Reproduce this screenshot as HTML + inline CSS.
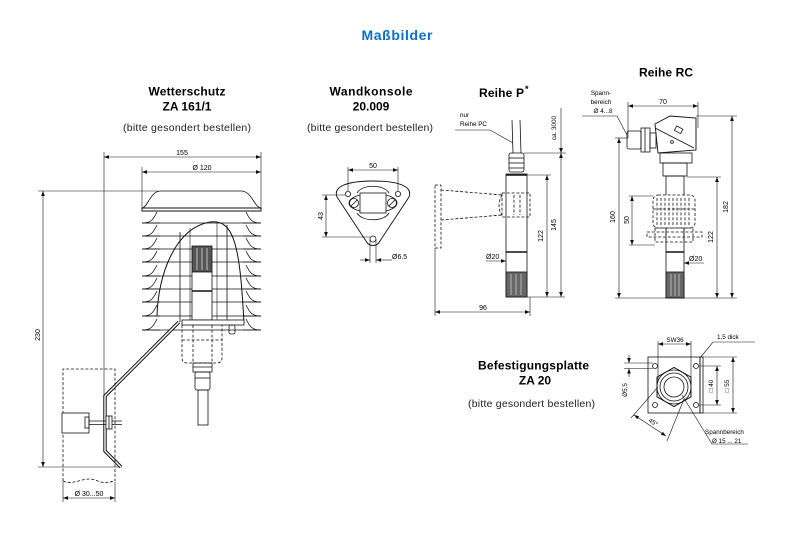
<!DOCTYPE html>
<html><head><meta charset="utf-8">
<style>
html,body{margin:0;padding:0;background:#fff;width:800px;height:556px;overflow:hidden}
svg{display:block}
text{font-family:"Liberation Sans",sans-serif;fill:#000}
.h{font-weight:bold;font-size:12px}
.n{font-size:10.5px;fill:#222}
.s{font-size:7px}
.t{font-size:6.3px}
line,path,rect,circle,ellipse,polygon,polyline{fill:none;stroke:#111;stroke-width:0.8}
.d{stroke-dasharray:3 1.8}
.dm{stroke-width:0.6}
.k{stroke-width:1.6}
</style></head>
<body>
<svg width="800" height="556" viewBox="0 0 800 556" xmlns="http://www.w3.org/2000/svg">
<defs>
<marker id="a" viewBox="0 0 8 6" refX="8" refY="3" markerWidth="5" markerHeight="4" orient="auto-start-reverse" markerUnits="userSpaceOnUse">
<path d="M0,0 L8,3 L0,6 Z" style="fill:#111;stroke:none"/>
</marker>
</defs>

<!-- Title -->
<text x="397" y="40" text-anchor="middle" font-size="14" font-weight="bold" style="fill:#0a6fc4" textLength="71">Maßbilder</text>

<!-- Headings -->
<text class="h" x="187" y="95.5" text-anchor="middle" textLength="77">Wetterschutz</text>
<text class="h" x="187" y="110.5" text-anchor="middle">ZA 161/1</text>
<text class="n" x="187" y="131" text-anchor="middle" textLength="128">(bitte gesondert bestellen)</text>

<text class="h" x="371" y="95.5" text-anchor="middle" textLength="83">Wandkonsole</text>
<text class="h" x="371" y="110.5" text-anchor="middle">20.009</text>
<text class="n" x="370" y="131" text-anchor="middle" textLength="126">(bitte gesondert bestellen)</text>

<text class="h" x="479" y="97" textLength="45">Reihe P</text><text x="525" y="92" font-size="9" font-weight="bold">*</text>
<text class="h" x="666" y="76.5" text-anchor="middle" textLength="54">Reihe RC</text>

<text class="h" x="533.5" y="369.5" text-anchor="middle" textLength="111">Befestigungsplatte</text>
<text class="h" x="535" y="384.5" text-anchor="middle">ZA 20</text>
<text class="n" x="531.5" y="407" text-anchor="middle" textLength="127">(bitte gesondert bestellen)</text>

<!-- ================= Wetterschutz ================= -->
<g>
<line class="dm" x1="104" y1="157" x2="261" y2="157" marker-start="url(#a)" marker-end="url(#a)"/>
<text class="s" x="182" y="155" text-anchor="middle">155</text>
<line class="dm" x1="261" y1="152" x2="261" y2="208"/>
<line class="dm" x1="142" y1="172" x2="261" y2="172" marker-start="url(#a)" marker-end="url(#a)"/>
<text class="s" x="202" y="170" text-anchor="middle">Ø 120</text>
<line class="dm" x1="142" y1="167" x2="142" y2="208"/>
<line class="dm" x1="43" y1="191" x2="43" y2="467" marker-start="url(#a)" marker-end="url(#a)"/>
<line class="dm" x1="38" y1="191" x2="158" y2="191"/>
<line class="dm" x1="38" y1="467" x2="122" y2="467"/>
<text class="s" x="40" y="335" text-anchor="middle" transform="rotate(-90 40 335)">230</text>
<line class="dm" x1="104" y1="152" x2="104" y2="397"/>

<!-- roof -->
<path d="M142,208 C148,207 150,192 160,191 L242,191 C252,192 254,207 261,208"/>
<rect x="142" y="208" width="119" height="3" style="stroke-width:1"/>

<!-- louvers -->
<g style="stroke-width:0.9">
<line x1="142" y1="223" x2="261" y2="223"/>
<line x1="142" y1="236" x2="261" y2="236"/>
<line x1="142" y1="249" x2="261" y2="249"/>
<line x1="142" y1="262" x2="261" y2="262"/>
<line x1="142" y1="276" x2="261" y2="276"/>
<line x1="142" y1="289" x2="261" y2="289"/>
<line x1="142" y1="302" x2="261" y2="302"/>
<line x1="142" y1="316" x2="261" y2="316"/>
<line x1="142" y1="330" x2="261" y2="330"/>
</g>
<g style="stroke-width:2">
<line x1="142" y1="223" x2="160" y2="223"/><line x1="243" y1="223" x2="261" y2="223"/>
<line x1="142" y1="236" x2="160" y2="236"/><line x1="243" y1="236" x2="261" y2="236"/>
<line x1="142" y1="249" x2="160" y2="249"/><line x1="243" y1="249" x2="261" y2="249"/>
<line x1="142" y1="262" x2="160" y2="262"/><line x1="243" y1="262" x2="261" y2="262"/>
<line x1="142" y1="276" x2="160" y2="276"/><line x1="243" y1="276" x2="261" y2="276"/>
<line x1="142" y1="289" x2="160" y2="289"/><line x1="243" y1="289" x2="261" y2="289"/>
<line x1="142" y1="302" x2="160" y2="302"/><line x1="243" y1="302" x2="261" y2="302"/>
<line x1="142" y1="316" x2="160" y2="316"/><line x1="243" y1="316" x2="261" y2="316"/>
<line x1="142" y1="330" x2="160" y2="330"/><line x1="243" y1="330" x2="261" y2="330"/>
</g>
<g style="stroke-width:1">
<path d="M142,223 C151,223 153,220 157,212"/><path d="M261,223 C252,223 250,220 246,212"/>
<path d="M142,236 C151,236 153,233 157,225"/><path d="M261,236 C252,236 250,233 246,225"/>
<path d="M142,249 C151,249 153,246 157,238"/><path d="M261,249 C252,249 250,246 246,238"/>
<path d="M142,262 C151,262 153,259 157,251"/><path d="M261,262 C252,262 250,259 246,251"/>
<path d="M142,276 C151,276 153,273 157,265"/><path d="M261,276 C252,276 250,273 246,265"/>
<path d="M142,289 C151,289 153,286 157,278"/><path d="M261,289 C252,289 250,286 246,278"/>
<path d="M142,302 C151,302 153,299 157,291"/><path d="M261,302 C252,302 250,299 246,291"/>
<path d="M142,316 C151,316 153,313 157,305"/><path d="M261,316 C252,316 250,313 246,305"/>
<path d="M142,330 C151,330 153,327 157,319"/><path d="M261,330 C252,330 250,327 246,319"/>
</g>

<!-- inner dome -->
<path d="M157,316 C158,275 175,228 210,222 C234,219 240,245 244,324" style="stroke-width:1"/>
<line x1="180" y1="232" x2="180" y2="322"/>
<line x1="190" y1="228" x2="190" y2="322" class="dm"/>
<line x1="227" y1="225" x2="227" y2="322"/>
<line x1="217" y1="223" x2="217" y2="322" class="dm"/>
<!-- sensor -->
<rect x="192" y="246" width="20" height="26" style="fill:#555"/>
<line x1="197" y1="248" x2="197" y2="270" style="stroke:#ddd"/>
<line x1="202" y1="248" x2="202" y2="270" style="stroke:#ddd"/>
<line x1="207" y1="248" x2="207" y2="270" style="stroke:#ddd"/>
<rect x="192" y="272" width="20" height="19" style="fill:#fff"/>
<rect x="192" y="291" width="20" height="29" style="fill:#fff"/>
<line x1="192" y1="291" x2="212" y2="291" class="k"/>
<!-- base plate -->
<rect x="182" y="320" width="62" height="5" style="fill:#fff"/>
<rect x="229" y="325" width="6" height="9" rx="2"/>
<!-- gland (dashed) -->
<path class="d" d="M182,325 L182,358 Q182,363 187,363 L217,363 Q222,363 222,358 L222,325"/>
<line class="d" x1="193" y1="325" x2="193" y2="363"/>
<line class="d" x1="212" y1="325" x2="212" y2="363"/>
<line class="d" x1="182" y1="340" x2="222" y2="340"/>
<rect x="193" y="363" width="19" height="9"/>
<line x1="193" y1="367" x2="212" y2="367"/>
<rect x="195" y="372" width="15" height="18" rx="2"/>
<line x1="195" y1="378" x2="210" y2="378"/>
<rect x="198" y="390" width="10" height="35"/>

<!-- rod -->
<polyline points="179,322 105,396 105,451 121,467" style="stroke-width:3.4;stroke-linejoin:miter"/>
<polyline points="179,322 105,396 105,451 121,467" style="stroke:#fff;stroke-width:1.4;stroke-linejoin:miter"/>

<!-- mast (dashed) -->
<path class="d" d="M63,481 L63,369 L115,369 L115,481"/>
<path class="d" d="M63,481 C74,486 84,476 95,480 C105,484 110,483 115,480"/>
<line class="dm" x1="63" y1="482" x2="63" y2="502"/>
<line class="dm" x1="115" y1="482" x2="115" y2="502"/>
<line class="dm" x1="63" y1="498" x2="115" y2="498" marker-start="url(#a)" marker-end="url(#a)"/>
<text class="s" x="89" y="496" text-anchor="middle">Ø 30...50</text>
<!-- clamp -->
<rect x="62" y="413" width="27" height="20" style="fill:#fff"/>
<rect x="85" y="417" width="4" height="11"/>
<line x1="89" y1="421" x2="122" y2="421"/>
<line x1="89" y1="424.5" x2="122" y2="424.5"/>
<rect x="106" y="416" width="6" height="13" style="fill:#fff"/>
<line x1="109" y1="416" x2="109" y2="429"/>
</g>

<!-- ================= Wandkonsole ================= -->
<g>
<path d="M337,197 C333,187 346,181 373,181 C400,181 413,187 409,197 L380,241 C377,247 369,247 366,241 Z" style="stroke-width:0.9"/>
<circle cx="348" cy="194" r="2.6"/>
<circle cx="398" cy="194" r="2.6"/>
<circle cx="373" cy="239" r="3"/>
<path d="M357,193 C362,184 384,184 389,193"/>
<path d="M357,213 C362,222 384,222 389,213"/>
<ellipse cx="373" cy="203" rx="24" ry="9.5"/>
<rect x="360" y="193" width="26" height="20" style="fill:#fff"/>
<circle cx="354" cy="203" r="4.5"/>
<line x1="351" y1="206" x2="357" y2="200"/>
<circle cx="392" cy="203" r="4.5"/>
<line x1="389" y1="206" x2="395" y2="200"/>
<line class="dm" x1="348" y1="170" x2="398" y2="170" marker-start="url(#a)" marker-end="url(#a)"/>
<line class="dm" x1="348" y1="167" x2="348" y2="191"/>
<line class="dm" x1="398" y1="167" x2="398" y2="191"/>
<text class="s" x="373" y="168" text-anchor="middle">50</text>
<line class="dm" x1="326" y1="195" x2="326" y2="237" marker-start="url(#a)" marker-end="url(#a)"/>
<line class="dm" x1="322" y1="195" x2="345" y2="195"/>
<line class="dm" x1="322" y1="237" x2="370" y2="237"/>
<text class="s" x="323" y="216" text-anchor="middle" transform="rotate(-90 323 216)">43</text>
<line class="dm" x1="370" y1="240" x2="370" y2="263"/>
<line class="dm" x1="376" y1="240" x2="376" y2="263"/>
<line class="dm" x1="360" y1="260" x2="370" y2="260" marker-end="url(#a)"/>
<line class="dm" x1="392" y1="260" x2="376" y2="260" marker-end="url(#a)"/>
<text class="s" x="392" y="259">Ø6.5</text>
</g>

<!-- ================= Reihe P ================= -->
<g>
<rect class="d" x="435" y="185" width="6" height="63"/>
<line class="d" x1="441" y1="190" x2="502" y2="195"/>
<line class="d" x1="441" y1="220" x2="502" y2="215"/>
<path class="d" d="M502,195 C498,202 498,210 502,215"/>
<rect class="d" x="502" y="193" width="28" height="24"/>
<line class="d" x1="514" y1="195" x2="514" y2="215"/>
<line class="d" x1="520" y1="195" x2="520" y2="215"/>
<rect x="506" y="174" width="21" height="123" style="fill:none"/>
<line x1="506" y1="175" x2="527" y2="175" class="k"/>
<line x1="506" y1="252" x2="527" y2="252" class="k"/>
<rect x="506" y="272" width="21" height="25" style="fill:#666"/>
<line x1="511" y1="274" x2="511" y2="295" style="stroke:#ccc"/>
<line x1="516" y1="274" x2="516" y2="295" style="stroke:#ccc"/>
<line x1="521" y1="274" x2="521" y2="295" style="stroke:#ccc"/>
<rect x="509" y="153" width="15" height="19" rx="2"/>
<line x1="509" y1="158" x2="524" y2="158"/>
<line x1="509" y1="163" x2="524" y2="163"/>
<line x1="509" y1="168" x2="524" y2="168"/>
<line x1="512" y1="120" x2="513" y2="153"/>
<line x1="520" y1="120" x2="521" y2="153"/>
<polyline class="dm" points="455,130 490,130 513,143"/>
<text class="t" x="460" y="117">nur</text>
<text class="t" x="460" y="126">Reihe PC</text>
<line class="dm" x1="524" y1="153" x2="566" y2="153"/>
<line class="dm" x1="527" y1="175" x2="551" y2="175"/>
<line class="dm" x1="527" y1="297" x2="565" y2="297"/>
<line class="dm" x1="561" y1="108" x2="561" y2="153" marker-end="url(#a)"/>
<text class="t" x="556" y="128" text-anchor="middle" transform="rotate(-90 556 128)">ca. 3000</text>
<line class="dm" x1="561" y1="153" x2="561" y2="297" marker-start="url(#a)" marker-end="url(#a)"/>
<text class="s" x="556" y="225" text-anchor="middle" transform="rotate(-90 556 225)">145</text>
<line class="dm" x1="547" y1="175" x2="547" y2="297" marker-start="url(#a)" marker-end="url(#a)"/>
<text class="s" x="543" y="236" text-anchor="middle" transform="rotate(-90 543 236)">122</text>
<text class="s" x="486" y="259">Ø20</text>
<line class="dm" x1="486" y1="261" x2="506" y2="261" marker-end="url(#a)"/>
<line class="dm" x1="435" y1="248" x2="435" y2="316"/>
<line class="dm" x1="530" y1="297" x2="530" y2="316"/>
<line class="dm" x1="435" y1="312" x2="530" y2="312" marker-start="url(#a)" marker-end="url(#a)"/>
<text class="s" x="483" y="310" text-anchor="middle">96</text>
</g>

<!-- ================= Reihe RC ================= -->
<g>
<line class="dm" x1="628" y1="106" x2="698" y2="106" marker-start="url(#a)" marker-end="url(#a)"/>
<text class="s" x="663" y="104" text-anchor="middle">70</text>
<line class="dm" x1="628" y1="102" x2="628" y2="138"/>
<line class="dm" x1="698" y1="102" x2="698" y2="128"/>
<text class="t" x="601" y="95" text-anchor="middle">Spann-</text>
<text class="t" x="601" y="104" text-anchor="middle">bereich</text>
<text class="t" x="603" y="113" text-anchor="middle">Ø 4...8</text>
<polyline class="dm" points="582,116 617,116 627,135"/>
<!-- head -->
<polygon points="655,124 670,116 696,118 696,150 658,153" style="stroke-width:0.9"/>
<line x1="655" y1="128" x2="694" y2="148"/>
<rect x="675" y="127" width="7" height="5" transform="rotate(28 678 130)"/>
<circle cx="672" cy="142" r="1.4"/>
<rect x="627" y="131" width="14" height="18" rx="2"/>
<rect x="641" y="128" width="9" height="24"/>
<line x1="645" y1="128" x2="645" y2="152"/>
<rect x="650" y="133" width="6" height="15"/>
<rect x="660" y="153" width="32" height="10"/>
<rect x="663" y="163" width="24" height="13"/>
<rect x="666" y="176" width="18" height="122"/>
<line x1="666" y1="252" x2="684" y2="252" class="k"/>
<rect x="666" y="272" width="18" height="26" style="fill:#666"/>
<line x1="671" y1="274" x2="671" y2="296" style="stroke:#ccc"/>
<line x1="675" y1="274" x2="675" y2="296" style="stroke:#ccc"/>
<line x1="679" y1="274" x2="679" y2="296" style="stroke:#ccc"/>
<rect class="d" x="653" y="195" width="42" height="33" rx="5" style="fill:#fff"/>
<g class="d" style="stroke-width:0.6">
<line x1="657" y1="198" x2="657" y2="225"/><line x1="661" y1="198" x2="661" y2="225"/>
<line x1="665" y1="198" x2="665" y2="225"/><line x1="669" y1="198" x2="669" y2="225"/>
<line x1="673" y1="198" x2="673" y2="225"/><line x1="677" y1="198" x2="677" y2="225"/>
<line x1="681" y1="198" x2="681" y2="225"/><line x1="685" y1="198" x2="685" y2="225"/>
<line x1="689" y1="198" x2="689" y2="225"/>
</g>
<line x1="653" y1="209" x2="695" y2="209" class="d"/>
<rect class="d" x="647" y="232" width="55" height="5"/>
<rect class="d" x="655" y="228" width="38" height="14"/>
<line class="d" x1="666" y1="228" x2="666" y2="242"/>
<line class="d" x1="684" y1="228" x2="684" y2="242"/>
<line class="dm" x1="615" y1="298" x2="737" y2="298"/>
<line class="dm" x1="615" y1="138" x2="628" y2="138"/>
<line class="dm" x1="619" y1="138" x2="619" y2="298" marker-start="url(#a)" marker-end="url(#a)"/>
<text class="s" x="615" y="217" text-anchor="middle" transform="rotate(-90 615 217)">160</text>
<line class="dm" x1="629" y1="196" x2="653" y2="196"/>
<line class="dm" x1="629" y1="245" x2="655" y2="245"/>
<line class="dm" x1="632" y1="196" x2="632" y2="245" marker-start="url(#a)" marker-end="url(#a)"/>
<text class="s" x="629" y="220" text-anchor="middle" transform="rotate(-90 629 220)">50</text>
<line class="dm" x1="687" y1="177" x2="721" y2="177"/>
<line class="dm" x1="717" y1="177" x2="717" y2="298" marker-start="url(#a)" marker-end="url(#a)"/>
<text class="s" x="713" y="237" text-anchor="middle" transform="rotate(-90 713 237)">122</text>
<line class="dm" x1="696" y1="116" x2="737" y2="116"/>
<line class="dm" x1="732" y1="116" x2="732" y2="298" marker-start="url(#a)" marker-end="url(#a)"/>
<text class="s" x="728" y="207" text-anchor="middle" transform="rotate(-90 728 207)">182</text>
<line class="dm" x1="704" y1="263" x2="684" y2="263" marker-end="url(#a)"/>
<text class="s" x="689" y="261">Ø20</text>
</g>

<!-- ================= Befestigungsplatte ================= -->
<g>
<rect x="648" y="357" width="52" height="56"/>
<rect x="700" y="357" width="3" height="56"/>
<circle cx="655" cy="366" r="2.5"/>
<circle cx="696" cy="366" r="2.5"/>
<circle cx="655" cy="405" r="2.5"/>
<circle cx="696" cy="405" r="2.5"/>
<polygon points="674,367.4 691,377.2 691,396.8 674,406.6 657,396.8 657,377.2" style="stroke-width:1"/>
<circle cx="674" cy="387" r="17"/>
<circle cx="674" cy="387" r="14"/>
<circle cx="674" cy="387" r="10"/>
<line class="dm" x1="658" y1="341" x2="658" y2="380"/>
<line class="dm" x1="691" y1="341" x2="691" y2="380"/>
<line class="dm" x1="658" y1="344" x2="691" y2="344" marker-start="url(#a)" marker-end="url(#a)"/>
<text class="t" x="675" y="342" text-anchor="middle">SW36</text>
<polyline class="dm" points="755,342 713,342 700,358"/>
<text class="t" x="717" y="339">1,5 dick</text>
<line class="dm" x1="700" y1="366" x2="721" y2="366"/>
<line class="dm" x1="700" y1="405" x2="721" y2="405"/>
<line class="dm" x1="717" y1="366" x2="717" y2="405" marker-start="url(#a)" marker-end="url(#a)"/>
<text class="t" x="713" y="386" text-anchor="middle" transform="rotate(-90 713 386)">□ 40</text>
<line class="dm" x1="703" y1="357" x2="737" y2="357"/>
<line class="dm" x1="703" y1="413" x2="737" y2="413"/>
<line class="dm" x1="733" y1="357" x2="733" y2="413" marker-start="url(#a)" marker-end="url(#a)"/>
<text class="t" x="729" y="386" text-anchor="middle" transform="rotate(-90 729 386)">□ 55</text>
<line class="dm" x1="624" y1="363" x2="653" y2="363"/>
<line class="dm" x1="624" y1="368.5" x2="653" y2="368.5"/>
<line class="dm" x1="629" y1="355" x2="629" y2="363" marker-end="url(#a)"/>
<line class="dm" x1="629" y1="377" x2="629" y2="368.5" marker-end="url(#a)"/>
<text class="t" x="627" y="390" text-anchor="middle" transform="rotate(-90 627 390)">Ø5,5</text>
<line class="dm" x1="658" y1="387" x2="631" y2="418"/>
<line class="dm" x1="684" y1="399" x2="667" y2="441"/>
<line class="dm" x1="634" y1="415" x2="666" y2="436" marker-start="url(#a)" marker-end="url(#a)"/>
<text class="t" x="652" y="424" text-anchor="middle" transform="rotate(33 652 424)">45°</text>
<polyline class="dm" points="682,395 712,444 748,444"/>
<text class="t" x="705" y="434">Spannbereich</text>
<text class="t" x="712" y="443">Ø 15 ... 21</text>
</g>
</svg>
</body></html>
